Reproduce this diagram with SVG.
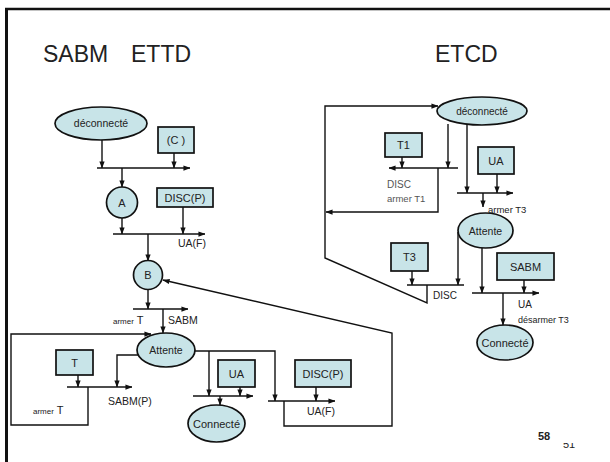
<svg xmlns="http://www.w3.org/2000/svg" width="610" height="462" viewBox="0 0 610 462">
  <style>
    .st { fill: #c8e4e8; stroke: #111; stroke-width: 1.7; }
    .ln { fill: none; stroke: #111; stroke-width: 1.4; }
    .t  { font-family: "Liberation Sans", Arial, sans-serif; fill: #222; }
    .c  { text-anchor: middle; }
    .xs { font-size: 8px; }
    .ttl { font-size: 23px; fill: #222; }
  </style>
  <defs>
    <marker id="arr" viewBox="0 0 8 6" refX="7.5" refY="3" markerWidth="7" markerHeight="5.5" markerUnits="userSpaceOnUse" orient="auto">
      <path d="M0,0 L8,3 L0,6 z" fill="#111"/>
    </marker>
    <clipPath id="pgclip">
      <rect x="0" y="443" width="610" height="19"/>
    </clipPath>
  </defs>

  <rect width="610" height="462" fill="#fff"/>

  <!-- slide frame -->
  <g id="frame">
    <line x1="5" y1="9" x2="610" y2="9" stroke="#111" stroke-width="2.5"/>
    <line x1="6.5" y1="8" x2="6.5" y2="462" stroke="#111" stroke-width="3"/>
  </g>

  <!-- titles -->
  <text class="t ttl" x="43" y="62">SABM<tspan x="131">ETTD</tspan></text>
  <text class="t ttl" x="435" y="62">ETCD</text>

  <!-- connectors -->
  <g id="connectors" class="ln">
    <!-- ETTD side -->
    <path d="M102,140 V168" marker-end="url(#arr)"/>
    <path d="M174,153 V168" marker-end="url(#arr)"/>
    <path d="M97,168 H190" marker-end="url(#arr)"/>
    <path d="M122,168 V187" marker-end="url(#arr)"/>
    <path d="M122,218 V234" marker-end="url(#arr)"/>
    <path d="M183,207 V234" marker-end="url(#arr)"/>
    <path d="M113,234 H205" marker-end="url(#arr)"/>
    <path d="M148,234 V261" marker-end="url(#arr)"/>
    <path d="M148,289 V309" marker-end="url(#arr)"/>
    <path d="M133,309 H188" marker-end="url(#arr)"/>
    <path d="M163,309 V333" marker-end="url(#arr)"/>
    <path d="M88,387 V425 H11 V334 H151" marker-end="url(#arr)"/>
    <path d="M78,375 V387" marker-end="url(#arr)"/>
    <path d="M67,387 H132" marker-end="url(#arr)"/>
    <path d="M138,355 H117 V387" marker-end="url(#arr)"/>
    <path d="M194,351 H275 V401" marker-end="url(#arr)"/>
    <path d="M209,351 V396" marker-end="url(#arr)"/>
    <path d="M240,387 V396" marker-end="url(#arr)"/>
    <path d="M193,396 H253" marker-end="url(#arr)"/>
    <path d="M220,396 V405" marker-end="url(#arr)"/>
    <path d="M316,387 V401" marker-end="url(#arr)"/>
    <path d="M268,401 H335" marker-end="url(#arr)"/>
    <path d="M284,401 V426 H392 V333 L163,280" marker-end="url(#arr)"/>

    <!-- ETCD side -->
    <path d="M427,285 V303 L325,258 V106 H438" marker-end="url(#arr)"/>
    <path d="M448,124 V168" marker-end="url(#arr)"/>
    <path d="M402,157 V168" marker-end="url(#arr)"/>
    <path d="M458,168 H389" marker-end="url(#arr)"/>
    <path d="M438,168 V212 H326" marker-end="url(#arr)"/>
    <path d="M467,125 V193" marker-end="url(#arr)"/>
    <path d="M497,174 V193" marker-end="url(#arr)"/>
    <path d="M457,193 H513" marker-end="url(#arr)"/>
    <path d="M483,193 V207" marker-end="url(#arr)"/>
    <path d="M458,232 V285" marker-end="url(#arr)"/>
    <path d="M412,271 V285" marker-end="url(#arr)"/>
    <path d="M407,285 H464"/>
    <path d="M482,248 V293" marker-end="url(#arr)"/>
    <path d="M524,280 V293" marker-end="url(#arr)"/>
    <path d="M472,293 H539" marker-end="url(#arr)"/>
    <path d="M503,293 V325" marker-end="url(#arr)"/>
  </g>

  <!-- ETTD states and events -->
  <g id="ettd-deconnecte">
    <ellipse class="st" cx="101" cy="123.5" rx="46" ry="16.5"/>
    <text class="t c" x="101" y="127" font-size="10.5">déconnecté</text>
  </g>
  <g id="ettd-c">
    <rect class="st" x="158" y="127" width="36" height="26"/>
    <text class="t c" x="176" y="144" font-size="11">(C )</text>
  </g>
  <g id="ettd-a">
    <circle class="st" cx="122" cy="202.5" r="15.5"/>
    <text class="t c" x="122" y="207" font-size="11">A</text>
  </g>
  <g id="ettd-discp1">
    <rect class="st" x="157" y="188" width="56" height="19"/>
    <text class="t c" x="185" y="201.5" font-size="11">DISC(P)</text>
  </g>
  <g id="ettd-b">
    <circle class="st" cx="148" cy="275" r="14.5"/>
    <text class="t c" x="148" y="279" font-size="11">B</text>
  </g>
  <g id="ettd-attente">
    <ellipse class="st" cx="166" cy="350" rx="29" ry="17"/>
    <text class="t c" x="166" y="354" font-size="10.5">Attente</text>
  </g>
  <g id="ettd-t">
    <rect class="st" x="56" y="350" width="37" height="25"/>
    <text class="t c" x="74.5" y="366.5" font-size="11">T</text>
  </g>
  <g id="ettd-ua">
    <rect class="st" x="218" y="360" width="37" height="27"/>
    <text class="t c" x="236.5" y="377.5" font-size="11">UA</text>
  </g>
  <g id="ettd-connecte">
    <ellipse class="st" cx="216.5" cy="423.5" rx="28.5" ry="18.5"/>
    <text class="t c" x="216.5" y="427.5" font-size="11">Connecté</text>
  </g>
  <g id="ettd-discp2">
    <rect class="st" x="295" y="360" width="56" height="27"/>
    <text class="t c" x="323" y="377.5" font-size="11">DISC(P)</text>
  </g>

  <!-- ETTD action labels -->
  <g id="ettd-labels" class="t">
    <text x="178" y="247" font-size="10.5">UA(F)</text>
    <text x="113" y="324"><tspan class="xs">armer</tspan><tspan font-size="11"> T</tspan></text>
    <text x="168" y="324" font-size="10.5">SABM</text>
    <text x="108" y="405" font-size="10.5">SABM(P)</text>
    <text x="33" y="414"><tspan class="xs">armer</tspan><tspan font-size="11"> T</tspan></text>
    <text x="307" y="415" font-size="10.5">UA(F)</text>
  </g>

  <!-- ETCD states and events -->
  <g id="etcd-deconnecte">
    <ellipse class="st" cx="482" cy="111" rx="45" ry="14"/>
    <text class="t c" x="482" y="114.5" font-size="10">déconnecté</text>
  </g>
  <g id="etcd-t1">
    <rect class="st" x="385" y="133" width="37" height="24"/>
    <text class="t c" x="403.5" y="149" font-size="11">T1</text>
  </g>
  <g id="etcd-ua">
    <rect class="st" x="478" y="147" width="36" height="27"/>
    <text class="t c" x="496" y="164.5" font-size="11">UA</text>
  </g>
  <g id="etcd-attente">
    <ellipse class="st" cx="485.5" cy="230.5" rx="27.5" ry="17.5"/>
    <text class="t c" x="485.5" y="234.5" font-size="10.5">Attente</text>
  </g>
  <g id="etcd-t3">
    <rect class="st" x="391" y="243" width="37" height="28"/>
    <text class="t c" x="409.5" y="261" font-size="11">T3</text>
  </g>
  <g id="etcd-sabm">
    <rect class="st" x="497" y="253" width="57" height="27"/>
    <text class="t c" x="525.5" y="270.5" font-size="11">SABM</text>
  </g>
  <g id="etcd-connecte">
    <ellipse class="st" cx="505" cy="342.5" rx="28" ry="17.5"/>
    <text class="t c" x="505" y="346.5" font-size="11">Connecté</text>
  </g>

  <!-- ETCD action labels -->
  <g id="etcd-labels" class="t">
    <text x="387" y="188" font-size="10" fill="#555">DISC</text>
    <text x="387" y="202" font-size="9.5" fill="#555">armer T1</text>
    <text x="488" y="213" font-size="9.5">armer T3</text>
    <text x="433" y="299" font-size="10">DISC</text>
    <text x="518" y="308" font-size="10">UA</text>
    <text x="518" y="323" font-size="9">désarmer T3</text>
  </g>

  <!-- page numbers -->
  <text class="t" x="538" y="440" font-size="11" font-weight="bold" fill="#444">58</text>
  <text class="t" x="563" y="448" font-size="11" fill="#555" clip-path="url(#pgclip)">51</text>
</svg>
